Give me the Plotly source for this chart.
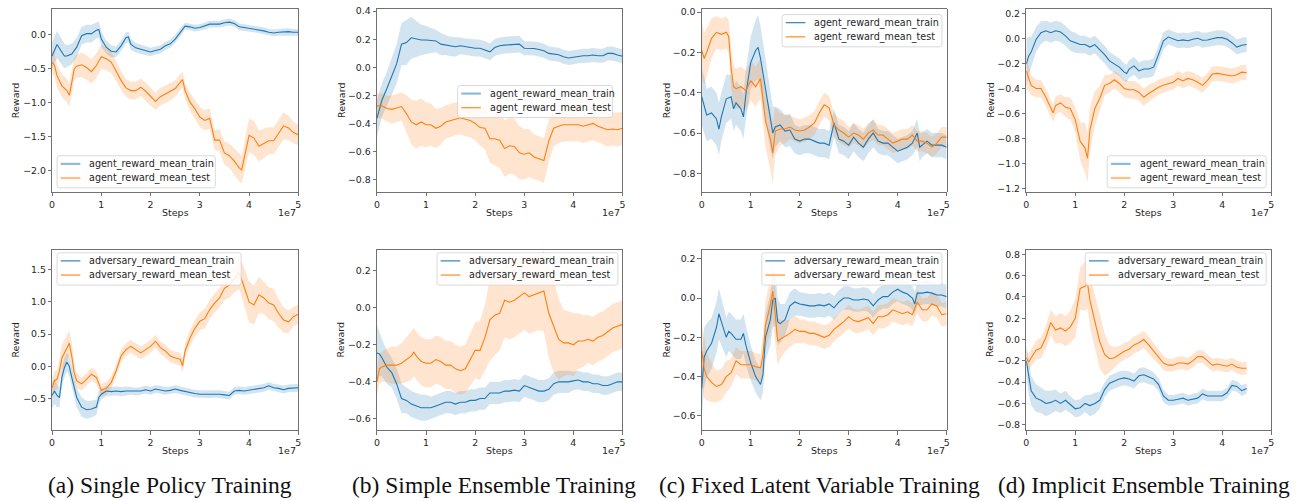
import plotly.graph_objects as go

W, H = 1303, 501

# ---------------- data (steps in units of 1e7) ----------------
# (a) Single Policy Training - agent
a1_train_steps = [0,0.1,0.25,0.3,0.4,0.5,0.6,0.7,0.8,0.9,0.95,1.0,1.1,1.2,1.3,1.4,1.5,1.55,1.6,1.7,1.8,1.9,2.0,2.1,2.2,2.3,2.4,2.5,2.6,2.7,2.8,2.9,3.0,3.1,3.2,3.3,3.4,3.5,3.6,3.7,3.8,3.9,4.0,4.1,4.2,4.3,4.4,4.5,4.6,4.7,4.8,4.9,5.0]
a1_train_mean = [-0.31,-0.14,-0.31,-0.31,-0.28,-0.18,-0.01,0.02,0.02,0.07,0.08,-0.06,-0.18,-0.24,-0.25,-0.16,-0.04,-0.03,-0.14,-0.19,-0.21,-0.23,-0.25,-0.23,-0.21,-0.16,-0.13,-0.06,0.04,0.13,0.12,0.10,0.11,0.13,0.16,0.16,0.16,0.18,0.19,0.17,0.12,0.11,0.10,0.09,0.08,0.06,0.04,0.03,0.04,0.05,0.05,0.04,0.04]
a1_train_band = [0.2,0.2,0.18,0.16,0.15,0.14,0.13,0.13,0.13,0.12,0.12,0.11,0.1,0.09,0.08,0.08,0.08,0.08,0.08,0.07,0.07,0.07,0.06,0.06,0.06,0.06,0.06,0.06,0.06,0.05,0.05,0.05,0.05,0.05,0.05,0.05,0.05,0.05,0.05,0.05,0.05,0.05,0.05,0.05,0.05,0.05,0.05,0.05,0.05,0.05,0.05,0.05,0.05]
a1_test_steps = [0,0.05,0.1,0.2,0.3,0.35,0.4,0.45,0.5,0.6,0.7,0.8,0.9,1.0,1.1,1.2,1.3,1.4,1.5,1.6,1.7,1.8,1.9,2.0,2.1,2.2,2.3,2.4,2.5,2.6,2.65,2.7,2.8,2.9,3.0,3.1,3.2,3.3,3.4,3.5,3.6,3.7,3.8,3.85,3.9,4.0,4.1,4.2,4.3,4.4,4.5,4.6,4.7,4.8,4.9,5.0]
a1_test_mean = [-0.40,-0.45,-0.60,-0.75,-0.82,-0.89,-0.70,-0.50,-0.46,-0.44,-0.48,-0.54,-0.45,-0.32,-0.35,-0.40,-0.53,-0.67,-0.78,-0.82,-0.82,-0.77,-0.83,-0.91,-0.98,-0.91,-0.87,-0.84,-0.79,-0.70,-0.66,-0.82,-0.99,-1.09,-1.21,-1.26,-1.23,-1.55,-1.55,-1.74,-1.78,-1.86,-1.96,-1.99,-1.82,-1.48,-1.52,-1.64,-1.60,-1.56,-1.56,-1.45,-1.34,-1.37,-1.44,-1.47]
a1_test_band = [0.17,0.17,0.17,0.17,0.17,0.17,0.17,0.17,0.17,0.18,0.18,0.18,0.18,0.18,0.17,0.16,0.15,0.14,0.13,0.13,0.13,0.13,0.13,0.13,0.13,0.13,0.13,0.13,0.12,0.12,0.12,0.12,0.13,0.14,0.15,0.15,0.15,0.15,0.16,0.17,0.18,0.19,0.2,0.2,0.22,0.25,0.25,0.23,0.22,0.2,0.2,0.2,0.2,0.18,0.16,0.15]

# (b) Simple Ensemble Training - agent
b1_train_steps = [0,0.1,0.2,0.3,0.4,0.5,0.6,0.7,0.8,0.9,1.0,1.1,1.2,1.3,1.4,1.5,1.6,1.7,1.8,1.9,2.0,2.1,2.2,2.3,2.4,2.5,2.6,2.7,2.8,2.9,3.0,3.1,3.2,3.3,3.4,3.5,3.6,3.7,3.8,3.9,4.0,4.1,4.2,4.3,4.4,4.5,4.6,4.7,4.8,4.9,5.0]
b1_train_mean = [-0.365,-0.235,-0.153,-0.07,0.024,0.165,0.176,0.21,0.2,0.195,0.195,0.193,0.188,0.165,0.158,0.148,0.146,0.153,0.146,0.143,0.136,0.136,0.125,0.11,0.141,0.153,0.158,0.16,0.165,0.165,0.136,0.136,0.134,0.127,0.118,0.099,0.094,0.089,0.075,0.066,0.071,0.078,0.082,0.082,0.087,0.082,0.082,0.099,0.099,0.087,0.078]
b1_train_band = [0.13,0.12,0.12,0.13,0.14,0.15,0.16,0.15,0.13,0.11,0.1,0.09,0.08,0.08,0.07,0.07,0.07,0.06,0.06,0.06,0.06,0.06,0.06,0.06,0.06,0.06,0.06,0.06,0.06,0.06,0.05,0.05,0.05,0.05,0.05,0.05,0.05,0.05,0.05,0.05,0.05,0.05,0.05,0.05,0.05,0.05,0.05,0.05,0.05,0.05,0.05]
b1_test_steps = b1_train_steps
b1_test_mean = [-0.275,-0.275,-0.294,-0.30,-0.29,-0.28,-0.33,-0.39,-0.41,-0.39,-0.41,-0.41,-0.435,-0.42,-0.39,-0.38,-0.365,-0.36,-0.37,-0.38,-0.40,-0.43,-0.435,-0.51,-0.51,-0.52,-0.58,-0.56,-0.565,-0.61,-0.62,-0.61,-0.64,-0.65,-0.665,-0.525,-0.435,-0.42,-0.41,-0.41,-0.41,-0.41,-0.42,-0.41,-0.40,-0.42,-0.43,-0.445,-0.44,-0.445,-0.435]
b1_test_band = [0.09,0.09,0.09,0.1,0.1,0.1,0.13,0.16,0.17,0.17,0.16,0.15,0.14,0.13,0.12,0.12,0.12,0.12,0.12,0.12,0.12,0.13,0.15,0.17,0.19,0.2,0.2,0.2,0.2,0.19,0.18,0.17,0.16,0.16,0.16,0.15,0.13,0.12,0.12,0.12,0.12,0.12,0.12,0.12,0.12,0.12,0.12,0.12,0.12,0.12,0.12]

# (c) Fixed Latent Variable Training - agent
c1_train_steps = [0,0.05,0.1,0.2,0.3,0.35,0.4,0.5,0.6,0.65,0.7,0.8,0.85,0.9,1.0,1.1,1.15,1.2,1.3,1.4,1.45,1.5,1.6,1.7,1.8,1.9,2.0,2.1,2.2,2.3,2.4,2.5,2.6,2.7,2.8,2.9,3.0,3.1,3.2,3.3,3.4,3.5,3.6,3.7,3.8,3.9,4.0,4.1,4.2,4.3,4.4,4.45,4.5,4.6,4.7,4.8,4.9,5.0]
c1_train_mean = [-0.42,-0.46,-0.51,-0.50,-0.53,-0.58,-0.52,-0.43,-0.42,-0.48,-0.45,-0.48,-0.52,-0.41,-0.25,-0.19,-0.175,-0.23,-0.38,-0.54,-0.60,-0.57,-0.56,-0.59,-0.585,-0.63,-0.64,-0.63,-0.63,-0.64,-0.65,-0.65,-0.66,-0.55,-0.63,-0.64,-0.66,-0.62,-0.65,-0.67,-0.63,-0.60,-0.64,-0.65,-0.65,-0.67,-0.69,-0.68,-0.67,-0.65,-0.60,-0.67,-0.66,-0.64,-0.66,-0.66,-0.66,-0.67]
c1_train_band = [0.14,0.14,0.13,0.13,0.13,0.13,0.12,0.12,0.11,0.11,0.11,0.11,0.11,0.12,0.13,0.15,0.16,0.16,0.15,0.14,0.13,0.1,0.08,0.08,0.08,0.07,0.07,0.07,0.07,0.07,0.07,0.07,0.07,0.07,0.07,0.07,0.07,0.07,0.07,0.07,0.07,0.07,0.06,0.06,0.06,0.06,0.06,0.06,0.06,0.06,0.07,0.07,0.06,0.06,0.06,0.06,0.06,0.06]
c1_test_steps = [0,0.05,0.1,0.2,0.3,0.4,0.5,0.55,0.6,0.65,0.7,0.8,0.9,1.0,1.1,1.2,1.3,1.4,1.45,1.5,1.6,1.7,1.8,1.9,2.0,2.1,2.2,2.3,2.4,2.5,2.6,2.7,2.8,2.9,3.0,3.1,3.2,3.3,3.4,3.5,3.6,3.7,3.8,3.9,4.0,4.1,4.2,4.3,4.4,4.5,4.6,4.7,4.8,4.9,5.0]
c1_test_mean = [-0.19,-0.23,-0.20,-0.13,-0.10,-0.11,-0.10,-0.12,-0.28,-0.37,-0.38,-0.37,-0.39,-0.34,-0.37,-0.33,-0.54,-0.63,-0.70,-0.59,-0.58,-0.58,-0.57,-0.585,-0.59,-0.585,-0.57,-0.55,-0.50,-0.46,-0.475,-0.56,-0.585,-0.60,-0.62,-0.60,-0.61,-0.63,-0.60,-0.585,-0.61,-0.61,-0.63,-0.65,-0.64,-0.63,-0.63,-0.61,-0.64,-0.64,-0.65,-0.67,-0.65,-0.62,-0.62]
c1_test_band = [0.14,0.13,0.12,0.1,0.08,0.08,0.08,0.08,0.1,0.1,0.1,0.1,0.1,0.1,0.1,0.1,0.13,0.15,0.15,0.12,0.08,0.07,0.06,0.06,0.06,0.06,0.06,0.06,0.06,0.06,0.06,0.06,0.06,0.06,0.05,0.05,0.05,0.05,0.05,0.05,0.05,0.05,0.05,0.05,0.05,0.05,0.05,0.05,0.05,0.05,0.05,0.05,0.05,0.05,0.05]

# (d) Implicit Ensemble Training - agent
d1_train_steps = [0,0.05,0.1,0.2,0.3,0.4,0.5,0.6,0.7,0.8,0.9,1.0,1.1,1.2,1.3,1.4,1.5,1.6,1.7,1.8,1.9,2.0,2.05,2.1,2.2,2.3,2.4,2.5,2.6,2.7,2.8,2.9,3.0,3.1,3.2,3.3,3.4,3.5,3.6,3.7,3.8,3.9,4.0,4.1,4.2,4.3,4.4,4.5]
d1_train_mean = [-0.205,-0.14,-0.11,-0.01,0.045,0.06,0.045,0.06,0.05,0.02,-0.02,-0.035,-0.05,-0.05,-0.07,-0.05,-0.09,-0.13,-0.18,-0.205,-0.23,-0.27,-0.28,-0.245,-0.22,-0.26,-0.245,-0.245,-0.23,-0.13,-0.02,0.01,-0.003,-0.02,-0.013,-0.02,-0.008,0.0,-0.015,-0.013,-0.003,0.005,0.005,-0.008,-0.035,-0.07,-0.055,-0.05]
d1_train_band = [0.2,0.15,0.12,0.1,0.09,0.08,0.08,0.08,0.08,0.08,0.08,0.08,0.07,0.07,0.07,0.07,0.07,0.07,0.07,0.07,0.07,0.07,0.07,0.07,0.07,0.07,0.07,0.07,0.07,0.07,0.07,0.06,0.06,0.06,0.06,0.06,0.06,0.06,0.06,0.06,0.06,0.06,0.06,0.06,0.06,0.06,0.06,0.06]
d1_test_steps = [0,0.05,0.1,0.2,0.3,0.4,0.5,0.55,0.6,0.7,0.8,0.9,1.0,1.1,1.2,1.25,1.3,1.4,1.5,1.6,1.7,1.8,1.9,2.0,2.1,2.2,2.3,2.4,2.5,2.6,2.7,2.8,2.9,3.0,3.1,3.2,3.3,3.4,3.5,3.6,3.7,3.8,3.9,4.0,4.1,4.2,4.3,4.4,4.5]
d1_test_mean = [-0.26,-0.32,-0.375,-0.40,-0.40,-0.47,-0.56,-0.595,-0.535,-0.515,-0.55,-0.56,-0.65,-0.82,-0.875,-0.955,-0.73,-0.56,-0.48,-0.375,-0.36,-0.33,-0.36,-0.40,-0.41,-0.41,-0.43,-0.47,-0.44,-0.415,-0.39,-0.375,-0.36,-0.35,-0.32,-0.34,-0.32,-0.33,-0.35,-0.375,-0.335,-0.285,-0.28,-0.285,-0.29,-0.30,-0.29,-0.27,-0.275]
d1_test_band = [0.15,0.1,0.08,0.07,0.07,0.07,0.07,0.07,0.07,0.07,0.08,0.09,0.1,0.15,0.2,0.2,0.18,0.14,0.1,0.08,0.07,0.07,0.07,0.07,0.07,0.07,0.07,0.07,0.07,0.06,0.06,0.06,0.06,0.06,0.06,0.06,0.06,0.06,0.06,0.06,0.06,0.06,0.06,0.06,0.06,0.06,0.06,0.06,0.06]

# (a) Single Policy Training - adversary
a2_train_steps = [0,0.05,0.1,0.15,0.2,0.25,0.3,0.35,0.4,0.45,0.5,0.6,0.7,0.8,0.9,0.95,1.0,1.1,1.2,1.3,1.4,1.5,1.6,1.7,1.8,1.9,2.0,2.1,2.2,2.3,2.4,2.5,2.6,2.7,2.8,2.9,3.0,3.1,3.2,3.3,3.4,3.5,3.6,3.7,3.8,3.9,4.0,4.1,4.2,4.3,4.4,4.5,4.6,4.7,4.8,4.9,5.0]
a2_train_mean = [-0.45,-0.38,-0.45,-0.48,-0.17,-0.02,0.07,0.0,-0.17,-0.33,-0.48,-0.63,-0.67,-0.66,-0.63,-0.48,-0.43,-0.38,-0.39,-0.38,-0.39,-0.38,-0.38,-0.39,-0.38,-0.36,-0.38,-0.35,-0.36,-0.38,-0.37,-0.35,-0.37,-0.39,-0.40,-0.42,-0.43,-0.43,-0.43,-0.42,-0.43,-0.44,-0.45,-0.38,-0.37,-0.38,-0.37,-0.36,-0.34,-0.33,-0.30,-0.33,-0.34,-0.36,-0.34,-0.33,-0.33]
a2_train_band = [0.2,0.2,0.18,0.15,0.15,0.15,0.15,0.15,0.15,0.15,0.15,0.15,0.14,0.13,0.12,0.1,0.08,0.08,0.07,0.07,0.07,0.07,0.06,0.06,0.06,0.06,0.06,0.06,0.06,0.06,0.06,0.06,0.06,0.06,0.06,0.06,0.06,0.06,0.06,0.06,0.06,0.06,0.06,0.06,0.06,0.06,0.06,0.06,0.06,0.06,0.06,0.06,0.06,0.06,0.06,0.06,0.06]
a2_test_steps = [0,0.05,0.1,0.15,0.2,0.25,0.3,0.35,0.4,0.45,0.5,0.6,0.7,0.8,0.9,1.0,1.1,1.2,1.3,1.4,1.5,1.6,1.7,1.8,1.9,2.0,2.1,2.2,2.3,2.4,2.5,2.6,2.65,2.7,2.8,2.9,3.0,3.1,3.2,3.3,3.4,3.5,3.6,3.7,3.8,3.9,4.0,4.1,4.2,4.3,4.4,4.5,4.6,4.7,4.8,4.9,5.0]
a2_test_mean = [-0.33,-0.22,-0.20,-0.07,0.13,0.21,0.29,0.36,0.16,-0.10,-0.22,-0.27,-0.20,-0.12,-0.17,-0.37,-0.34,-0.25,-0.07,0.16,0.26,0.31,0.26,0.21,0.26,0.31,0.39,0.29,0.24,0.16,0.13,0.11,0.01,0.24,0.44,0.59,0.70,0.74,0.88,0.98,1.06,1.21,1.26,1.36,1.45,1.23,1.0,0.95,1.11,1.06,0.98,0.95,0.82,0.72,0.69,0.77,0.81]
a2_test_band = [0.15,0.15,0.15,0.17,0.2,0.2,0.2,0.2,0.2,0.15,0.12,0.1,0.1,0.1,0.1,0.1,0.1,0.1,0.1,0.1,0.1,0.1,0.1,0.1,0.1,0.1,0.1,0.1,0.1,0.1,0.1,0.1,0.1,0.12,0.12,0.13,0.14,0.15,0.15,0.15,0.15,0.18,0.2,0.22,0.25,0.3,0.32,0.3,0.28,0.25,0.25,0.25,0.22,0.2,0.18,0.15,0.15]

# (b) Simple Ensemble Training - adversary
b2_train_steps = [0,0.05,0.1,0.2,0.3,0.4,0.5,0.6,0.7,0.8,0.9,1.0,1.1,1.2,1.3,1.4,1.5,1.6,1.7,1.8,1.9,2.0,2.1,2.2,2.3,2.4,2.5,2.6,2.7,2.8,2.9,3.0,3.1,3.2,3.3,3.4,3.5,3.6,3.7,3.8,3.9,4.0,4.1,4.2,4.3,4.4,4.5,4.6,4.7,4.8,4.9,5.0]
b2_train_mean = [-0.244,-0.25,-0.27,-0.32,-0.35,-0.41,-0.49,-0.50,-0.52,-0.53,-0.54,-0.54,-0.54,-0.53,-0.52,-0.51,-0.51,-0.52,-0.51,-0.51,-0.50,-0.50,-0.49,-0.49,-0.46,-0.46,-0.46,-0.45,-0.45,-0.445,-0.45,-0.42,-0.43,-0.44,-0.45,-0.45,-0.44,-0.41,-0.40,-0.40,-0.40,-0.395,-0.39,-0.40,-0.40,-0.41,-0.41,-0.42,-0.42,-0.41,-0.40,-0.40]
b2_train_band = [0.15,0.12,0.1,0.09,0.08,0.08,0.08,0.07,0.07,0.07,0.07,0.07,0.06,0.06,0.06,0.06,0.06,0.06,0.06,0.06,0.06,0.06,0.06,0.06,0.06,0.06,0.06,0.06,0.06,0.06,0.06,0.06,0.06,0.06,0.06,0.06,0.06,0.06,0.06,0.06,0.06,0.05,0.05,0.05,0.05,0.05,0.05,0.05,0.05,0.05,0.05,0.05]
b2_test_steps = [0,0.05,0.1,0.2,0.3,0.4,0.5,0.6,0.7,0.75,0.8,0.9,1.0,1.1,1.2,1.3,1.4,1.5,1.6,1.7,1.8,1.9,2.0,2.1,2.2,2.3,2.4,2.5,2.6,2.7,2.8,2.9,3.0,3.1,3.2,3.3,3.4,3.5,3.6,3.7,3.8,3.9,4.0,4.1,4.2,4.3,4.4,4.5,4.6,4.7,4.8,4.9,5.0]
b2_test_mean = [-0.40,-0.33,-0.32,-0.31,-0.31,-0.31,-0.30,-0.28,-0.26,-0.24,-0.26,-0.29,-0.30,-0.30,-0.28,-0.29,-0.31,-0.31,-0.33,-0.34,-0.33,-0.28,-0.23,-0.23,-0.16,-0.065,-0.04,-0.03,0.04,0.03,0.04,0.06,0.08,0.06,0.07,0.08,0.09,-0.03,-0.10,-0.17,-0.19,-0.19,-0.20,-0.18,-0.18,-0.17,-0.18,-0.16,-0.15,-0.13,-0.11,-0.10,-0.09]
b2_test_band = [0.07,0.08,0.08,0.09,0.1,0.1,0.11,0.12,0.13,0.13,0.13,0.13,0.13,0.13,0.13,0.13,0.13,0.13,0.13,0.13,0.13,0.14,0.15,0.16,0.18,0.22,0.22,0.2,0.2,0.2,0.2,0.2,0.2,0.2,0.2,0.2,0.22,0.24,0.25,0.22,0.18,0.17,0.17,0.15,0.14,0.13,0.13,0.13,0.13,0.13,0.13,0.13,0.13]

# (c) Fixed Latent Variable Training - adversary
c2_train_steps = [0,0.05,0.1,0.2,0.3,0.35,0.4,0.5,0.55,0.6,0.7,0.8,0.85,0.9,1.0,1.1,1.2,1.25,1.3,1.4,1.45,1.5,1.55,1.6,1.7,1.8,1.9,2.0,2.1,2.2,2.3,2.4,2.5,2.6,2.7,2.8,2.9,3.0,3.1,3.2,3.3,3.4,3.5,3.6,3.7,3.8,3.9,4.0,4.1,4.2,4.3,4.35,4.4,4.5,4.6,4.7,4.8,4.9,5.0]
c2_train_mean = [-0.46,-0.30,-0.27,-0.23,-0.15,-0.08,-0.12,-0.20,-0.17,-0.18,-0.21,-0.21,-0.18,-0.24,-0.33,-0.40,-0.44,-0.39,-0.20,-0.11,-0.01,0.0,-0.12,-0.13,-0.11,-0.04,-0.02,-0.03,-0.035,-0.04,-0.04,-0.035,-0.04,-0.03,-0.05,-0.02,0.0,0.0,-0.01,-0.01,-0.005,-0.01,-0.04,-0.01,0.007,0.007,0.03,0.045,0.03,0.02,0.0,-0.03,0.025,0.025,0.03,0.025,0.015,0.015,0.007]
c2_train_band = [0.15,0.15,0.14,0.13,0.13,0.13,0.12,0.1,0.1,0.1,0.1,0.1,0.1,0.1,0.09,0.08,0.08,0.09,0.12,0.13,0.14,0.14,0.12,0.1,0.08,0.07,0.07,0.06,0.06,0.06,0.06,0.06,0.06,0.06,0.06,0.06,0.06,0.06,0.06,0.06,0.06,0.06,0.06,0.06,0.06,0.06,0.06,0.06,0.06,0.06,0.06,0.06,0.06,0.06,0.06,0.06,0.06,0.06,0.06]
c2_test_steps = [0,0.05,0.1,0.2,0.3,0.4,0.5,0.6,0.7,0.8,0.9,1.0,1.1,1.2,1.25,1.3,1.4,1.45,1.5,1.55,1.6,1.7,1.8,1.9,2.0,2.1,2.2,2.3,2.4,2.5,2.6,2.7,2.8,2.9,3.0,3.1,3.2,3.3,3.4,3.5,3.6,3.7,3.8,3.9,4.0,4.1,4.2,4.3,4.4,4.5,4.6,4.7,4.8,4.9,5.0]
c2_test_mean = [-0.27,-0.36,-0.40,-0.43,-0.45,-0.44,-0.40,-0.38,-0.32,-0.34,-0.34,-0.34,-0.35,-0.355,-0.29,-0.14,-0.035,0.035,-0.085,-0.22,-0.21,-0.195,-0.18,-0.16,-0.17,-0.17,-0.18,-0.18,-0.19,-0.20,-0.19,-0.16,-0.14,-0.12,-0.095,-0.115,-0.12,-0.11,-0.10,-0.13,-0.095,-0.095,-0.085,-0.06,-0.07,-0.08,-0.07,-0.085,-0.02,-0.06,-0.06,-0.03,-0.04,-0.085,-0.08]
c2_test_band = [0.15,0.15,0.12,0.1,0.08,0.08,0.08,0.07,0.07,0.07,0.07,0.07,0.07,0.07,0.1,0.12,0.14,0.15,0.15,0.12,0.1,0.08,0.07,0.07,0.06,0.06,0.06,0.06,0.06,0.06,0.06,0.06,0.06,0.06,0.06,0.06,0.06,0.06,0.06,0.06,0.06,0.06,0.06,0.06,0.06,0.06,0.06,0.06,0.06,0.06,0.06,0.06,0.06,0.06,0.06]

# (d) Implicit Ensemble Training - adversary
d2_train_steps = [0,0.05,0.1,0.2,0.3,0.4,0.5,0.6,0.7,0.8,0.9,1.0,1.1,1.2,1.3,1.4,1.5,1.6,1.7,1.8,1.9,2.0,2.1,2.2,2.3,2.4,2.5,2.6,2.7,2.8,2.9,3.0,3.1,3.2,3.3,3.4,3.5,3.6,3.7,3.8,3.9,4.0,4.1,4.2,4.3,4.4,4.5]
d2_train_mean = [-0.20,-0.36,-0.48,-0.55,-0.57,-0.60,-0.59,-0.57,-0.60,-0.57,-0.61,-0.65,-0.64,-0.60,-0.62,-0.60,-0.57,-0.47,-0.41,-0.39,-0.37,-0.36,-0.37,-0.39,-0.34,-0.33,-0.35,-0.37,-0.42,-0.53,-0.57,-0.57,-0.56,-0.55,-0.57,-0.56,-0.55,-0.51,-0.53,-0.53,-0.53,-0.53,-0.50,-0.43,-0.44,-0.48,-0.46]
d2_train_band = [0.15,0.15,0.14,0.13,0.12,0.12,0.11,0.1,0.09,0.09,0.08,0.08,0.08,0.08,0.1,0.1,0.08,0.07,0.07,0.07,0.07,0.07,0.07,0.07,0.07,0.07,0.07,0.06,0.06,0.06,0.05,0.05,0.05,0.05,0.05,0.05,0.05,0.05,0.05,0.05,0.05,0.05,0.05,0.05,0.05,0.05,0.05]
d2_test_steps = [0,0.05,0.1,0.2,0.3,0.4,0.5,0.6,0.7,0.8,0.9,1.0,1.1,1.2,1.25,1.3,1.4,1.5,1.6,1.7,1.8,1.9,2.0,2.1,2.2,2.3,2.4,2.5,2.6,2.7,2.8,2.9,3.0,3.1,3.2,3.3,3.4,3.5,3.6,3.7,3.8,3.9,4.0,4.1,4.2,4.3,4.4,4.5]
d2_test_mean = [-0.17,-0.21,-0.17,-0.10,-0.08,0.02,0.16,0.09,0.11,0.08,0.12,0.2,0.48,0.50,0.53,0.37,0.17,-0.02,-0.14,-0.18,-0.17,-0.14,-0.11,-0.09,-0.05,-0.03,0.0,-0.05,-0.11,-0.16,-0.22,-0.24,-0.24,-0.22,-0.22,-0.23,-0.20,-0.16,-0.16,-0.20,-0.24,-0.23,-0.24,-0.25,-0.23,-0.26,-0.27,-0.27]
d2_test_band = [0.08,0.08,0.08,0.09,0.1,0.11,0.12,0.13,0.14,0.14,0.15,0.18,0.2,0.23,0.24,0.25,0.25,0.25,0.2,0.13,0.1,0.08,0.08,0.08,0.08,0.08,0.08,0.08,0.08,0.07,0.07,0.06,0.06,0.06,0.06,0.06,0.06,0.06,0.06,0.06,0.06,0.06,0.06,0.06,0.06,0.06,0.06,0.06]

x_tick_labels = ["0", "1", "2", "3", "4", "5"]
captions = ["(a) Single Policy Training", "(b) Simple Ensemble Training",
            "(c) Fixed Latent Variable Training", "(d) Implicit Ensemble Training"]
agent_names = ["agent_reward_mean_train", "agent_reward_mean_test"]
adv_names = ["adversary_reward_mean_train", "adversary_reward_mean_test"]

# ---------------- style / layout ----------------
BLUE = "#1f77b4"
ORANGE = "#ff7f0e"
BLUE_FILL = "rgba(31,119,180,0.2)"
ORANGE_FILL = "rgba(255,127,14,0.2)"
BLUE_HANDLE = "rgba(31,119,180,0.5)"
ORANGE_HANDLE = "rgba(255,127,14,0.5)"
FONT = "DejaVu Sans"
FS_TICK = 9.4
FS_LAB = 9.5
FS_LEG = 9.6
TXT = "#262626"
AX = "#4d4d4d"

def px(x):
    return x / W

def py(y):
    return 1 - y / H

col_px = [(49.3, 296.7), (375.7, 622.3), (702.0, 948.0), (1028.0, 1274.0)]
row_px = [(6.0, 191.0), (249.0, 431.7)]
reward_x = [12.7, 340.0, 666.7, 991.7]
steps_y = [212.0, 452.5]

panels = [
    dict(train=(a1_train_steps, a1_train_mean, a1_train_band), test=(a1_test_steps, a1_test_mean, a1_test_band),
         yr=[-2.317, 0.384], yt=[-2.0, -1.5, -1.0, -0.5, 0.0], names=agent_names,
         leg=(54.3, 154.3, 213.3, 186.7), thick=(True, True)),
    dict(train=(b1_train_steps, b1_train_mean, b1_train_band), test=(b1_test_steps, b1_test_mean, b1_test_band),
         yr=[-0.89, 0.416], yt=[-0.8, -0.6, -0.4, -0.2, 0.0, 0.2, 0.4], names=agent_names,
         leg=(456.7, 83.3, 612.3, 115.7), thick=(True, False)),
    dict(train=(c1_train_steps, c1_train_mean, c1_train_band), test=(c1_test_steps, c1_test_mean, c1_test_band),
         yr=[-0.893, 0.016], yt=[-0.8, -0.6, -0.4, -0.2, 0.0], names=agent_names,
         leg=(782.7, 11.7, 943.3, 44.3), thick=(False, False)),
    dict(train=(d1_train_steps, d1_train_mean, d1_train_band), test=(d1_test_steps, d1_test_mean, d1_test_band),
         yr=[-1.226, 0.234], yt=[-1.2, -1.0, -0.8, -0.6, -0.4, -0.2, 0.0, 0.2], names=agent_names,
         leg=(1109.3, 154.3, 1269.0, 186.7), thick=(True, True)),
    dict(train=(a2_train_steps, a2_train_mean, a2_train_band), test=(a2_test_steps, a2_test_mean, a2_test_band),
         yr=[-0.99, 1.81], yt=[-0.5, 0.0, 0.5, 1.0, 1.5], names=adv_names,
         leg=(54.3, 252.3, 239.3, 285.0), thick=(False, False)),
    dict(train=(b2_train_steps, b2_train_mean, b2_train_band), test=(b2_test_steps, b2_test_mean, b2_test_band),
         yr=[-0.662, 0.314], yt=[-0.6, -0.4, -0.2, 0.0, 0.2], names=adv_names,
         leg=(436.0, 252.3, 617.7, 285.0), thick=(False, False)),
    dict(train=(c2_train_steps, c2_train_mean, c2_train_band), test=(c2_test_steps, c2_test_mean, c2_test_band),
         yr=[-0.674, 0.247], yt=[-0.6, -0.4, -0.2, 0.0, 0.2], names=adv_names,
         leg=(762.3, 252.3, 943.3, 285.0), thick=(False, False)),
    dict(train=(d2_train_steps, d2_train_mean, d2_train_band), test=(d2_test_steps, d2_test_mean, d2_test_band),
         yr=[-0.853, 0.846], yt=[-0.8, -0.6, -0.4, -0.2, 0.0, 0.2, 0.4, 0.6, 0.8], names=adv_names,
         leg=(1087.3, 252.3, 1269.0, 285.0), thick=(False, False)),
]

def fmt(v):
    s = f"{abs(v):.1f}"
    return ("\u2212" + s) if v < 0 else s

fig = go.Figure()
shapes = []
annotations = []
layout_axes = {}

def rounded_rect(x0, y0, x1, y1, r=2.5):
    def P(x, y):
        return f"{px(x):.6f},{py(y):.6f}"
    return (f"M {P(x0 + r, y0)} L {P(x1 - r, y0)} Q {P(x1, y0)} {P(x1, y0 + r)} "
            f"L {P(x1, y1 - r)} Q {P(x1, y1)} {P(x1 - r, y1)} "
            f"L {P(x0 + r, y1)} Q {P(x0, y1)} {P(x0, y1 - r)} "
            f"L {P(x0, y0 + r)} Q {P(x0, y0)} {P(x0 + r, y0)} Z")

for i, p in enumerate(panels):
    k = i + 1
    ci, ri = i % 4, i // 4
    xs = "x" if k == 1 else f"x{k}"
    ys = "y" if k == 1 else f"y{k}"
    xa = "xaxis" if k == 1 else f"xaxis{k}"
    ya = "yaxis" if k == 1 else f"yaxis{k}"
    c0, c1 = col_px[ci]
    r0, r1 = row_px[ri]

    layout_axes[xa] = dict(
        domain=[px(c0), px(c1)], anchor=ys, range=[0, 5e7],
        tickmode="array", tickvals=[j * 1e7 for j in range(6)], ticktext=x_tick_labels,
        ticks="outside", ticklen=3.5, tickwidth=0.8, tickcolor=AX,
        showline=True, linecolor=AX, linewidth=0.8, mirror=True,
        showgrid=False, zeroline=False, fixedrange=True,
        tickfont=dict(family=FONT, size=FS_TICK, color=TXT),
    )
    layout_axes[ya] = dict(
        domain=[py(r1), py(r0)], anchor=xs, range=p["yr"],
        tickmode="array", tickvals=p["yt"], ticktext=[fmt(v) for v in p["yt"]],
        ticks="outside", ticklen=3.5, tickwidth=0.8, tickcolor=AX,
        showline=True, linecolor=AX, linewidth=0.8, mirror=True,
        showgrid=False, zeroline=False, fixedrange=True,
        tickfont=dict(family=FONT, size=FS_TICK, color=TXT),
    )

    # bands then lines
    for key, fill in (("train", BLUE_FILL), ("test", ORANGE_FILL)):
        st, mu, bw = p[key]
        n = min(len(st), len(mu), len(bw))
        xv = [s * 1e7 for s in st[:n]]
        up = [m + b for m, b in zip(mu[:n], bw[:n])]
        lo = [m - b for m, b in zip(mu[:n], bw[:n])]
        fig.add_trace(go.Scatter(
            x=xv + xv[::-1], y=up + lo[::-1], xaxis=xs, yaxis=ys,
            fill="toself", fillcolor=fill, line=dict(width=0),
            mode="lines", hoverinfo="skip", showlegend=False))
    for key, col, nm in (("train", BLUE, p["names"][0]), ("test", ORANGE, p["names"][1])):
        st, mu, bw = p[key]
        n = min(len(st), len(mu))
        fig.add_trace(go.Scatter(
            x=[s * 1e7 for s in st[:n]], y=mu[:n], xaxis=xs, yaxis=ys,
            mode="lines", line=dict(color=col, width=1.1), name=nm, showlegend=False))

    # axis labels
    annotations.append(dict(x=px(reward_x[ci]), y=py((r0 + r1) / 2), xref="paper", yref="paper",
                            text="Reward", textangle=-90, showarrow=False,
                            font=dict(family=FONT, size=FS_LAB, color=TXT), xanchor="center", yanchor="middle"))
    annotations.append(dict(x=px((c0 + c1) / 2), y=py(steps_y[ri]), xref="paper", yref="paper",
                            text="Steps", showarrow=False,
                            font=dict(family=FONT, size=FS_LAB, color=TXT), xanchor="center", yanchor="middle"))
    annotations.append(dict(x=px(c1), y=py(steps_y[ri]), xref="paper", yref="paper",
                            text="1e7", showarrow=False,
                            font=dict(family=FONT, size=FS_LAB, color=TXT), xanchor="right", yanchor="middle"))

    # legend box (matplotlib style)
    L, T, R, B = p["leg"]
    shapes.append(dict(type="path", path=rounded_rect(L, T, R, B), xref="paper", yref="paper",
                       line=dict(color="#d0d0d0", width=0.8), fillcolor="rgba(255,255,255,0.85)", layer="above"))
    rows = [T + 8.2, T + 22.5]
    for j, (col, hcol, nm) in enumerate(((BLUE, BLUE_HANDLE, p["names"][0]),
                                         (ORANGE, ORANGE_HANDLE, p["names"][1]))):
        thick = p["thick"][j]
        shapes.append(dict(type="line", xref="paper", yref="paper",
                           x0=px(L + 3.7), x1=px(L + 23.4), y0=py(rows[j]), y1=py(rows[j]),
                           line=dict(color=hcol if thick else col, width=2.2 if thick else 1.1),
                           layer="above"))
        annotations.append(dict(x=px(L + 30.5), y=py(rows[j]), xref="paper", yref="paper",
                                text=nm, showarrow=False, xanchor="left", yanchor="middle",
                                font=dict(family=FONT, size=FS_LEG, color=TXT)))

# captions
cap_x = [167.5, 493.5, 820.0, 1146.0]
for cx, txt in zip(cap_x, captions):
    annotations.append(dict(x=px(cx), y=py(486.5), xref="paper", yref="paper", text=txt,
                            showarrow=False, xanchor="center", yanchor="middle",
                            font=dict(family="Liberation Serif", size=23.5, color="#111111")))

fig.update_layout(
    width=W, height=H, margin=dict(l=0, r=0, t=0, b=0),
    paper_bgcolor="white", plot_bgcolor="white",
    showlegend=False, shapes=shapes, annotations=annotations,
    hovermode=False,
    **layout_axes,
)

fig.write_html("out.html",
               config={"displayModeBar": False, "staticPlot": True},
               post_script="document.body.style.margin='0px';document.body.style.padding='0px';"
                           "document.body.style.overflow='hidden';")
